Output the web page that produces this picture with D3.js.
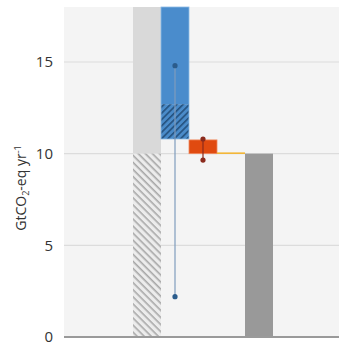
<!DOCTYPE html>
<html><head><meta charset="utf-8">
<script src="https://cdn.jsdelivr.net/npm/d3@7"></script>
<style>body{margin:0;background:#fff}svg{display:block}</style>
</head><body>
<script>
// Data
const categories = ["gross", "removals", "emissions", "link", "net"];
const yTicks = [0, 5, 10, 15];
// light-grey bar: solid segment and hatched segment [from, to]
const grossSolid = [10, 18];
const grossHatched = [0, 10];
// blue bar segments
const removalSolid = [12.7, 18];
const removalHatched = [10.8, 12.7];
const removalRange = [2.2, 14.8];
// orange bar
const emissionBar = [10, 10.75];
const emissionRange = [9.65, 10.8];
// connector line value
const linkValue = [10];
// net bar
const netBar = [0, 10];

const W = 339, H = 344;
const svg = d3.select("body").append("svg").attr("width", W).attr("height", H);
const defs = svg.append("defs");

const plotL = 64, plotR = 339, plotT = 7, plotB = 337;
const y = d3.scaleLinear().domain([0, 18]).range([plotB, plotT]);
const x = d3.scaleBand().domain(categories).range([133, 273]).padding(0);
const bw = x.bandwidth();

// patterns
const pg = defs.append("pattern").attr("id", "hatchGrey").attr("patternUnits", "userSpaceOnUse")
  .attr("width", 5).attr("height", 5).attr("patternTransform", "rotate(45)");
pg.append("rect").attr("width", 5).attr("height", 5).attr("fill", "#ececec");
pg.append("rect").attr("width", 5).attr("height", 1.6).attr("fill", "#a8a8a8");

const pb = defs.append("pattern").attr("id", "hatchBlue").attr("patternUnits", "userSpaceOnUse")
  .attr("width", 4.5).attr("height", 4.5).attr("patternTransform", "rotate(-45)");
pb.append("rect").attr("width", 4.5).attr("height", 4.5).attr("fill", "#4a8bc9");
pb.append("rect").attr("width", 4.5).attr("height", 1.6).attr("fill", "#25517e");

// background
svg.append("rect").attr("x", plotL).attr("y", plotT).attr("width", plotR - plotL).attr("height", plotB - plotT)
  .attr("fill", "#f4f4f4");

// gridlines
svg.append("g").selectAll("line").data(yTicks.filter(d => d > 0)).join("line")
  .attr("x1", plotL).attr("x2", plotR).attr("y1", d => y(d)).attr("y2", d => y(d))
  .attr("stroke", "#dcdcdc").attr("stroke-width", 1.2);

function seg(key, r, fill, stroke) {
  return svg.append("rect").attr("x", x(key)).attr("width", bw)
    .attr("y", y(r[1])).attr("height", y(r[0]) - y(r[1]))
    .attr("fill", fill).attr("stroke", stroke || "none");
}
seg("gross", grossSolid, "#d9d9d9");
seg("gross", grossHatched, "url(#hatchGrey)");
seg("removals", removalSolid, "#4a8ccc");
seg("removals", removalHatched, "url(#hatchBlue)");
seg("removals", [removalHatched[0], removalSolid[1]], "none", "#8dbbe6").attr("stroke-width", 0.8);
seg("emissions", emissionBar, "#e04a10", "#f08a60").attr("stroke-width", 0.8);
seg("net", netBar, "#999999");

// link line
svg.append("g").selectAll("line").data(linkValue).join("line")
  .attr("x1", x("link")).attr("x2", x("link") + bw)
  .attr("y1", d => y(d) - 0.5).attr("y2", d => y(d) - 0.5)
  .attr("stroke", "#f5b32a").attr("stroke-width", 1.5);

// error bars
function range(key, r, lineColor, dotColor) {
  const cx = x(key) + bw / 2;
  svg.append("line").attr("x1", cx).attr("x2", cx).attr("y1", y(r[0])).attr("y2", y(r[1]))
    .attr("stroke", lineColor).attr("stroke-width", 1.2);
  svg.append("g").selectAll("circle").data(r).join("circle")
    .attr("cx", cx).attr("cy", d => y(d)).attr("r", 2.6).attr("fill", dotColor);
}
range("removals", removalRange, "#7f9cbc", "#2b5c8c");
range("emissions", emissionRange, "#8b2a1c", "#8b2a1c");

// axis baseline
svg.append("line").attr("x1", plotL).attr("x2", plotR).attr("y1", plotB).attr("y2", plotB)
  .attr("stroke", "#9a9a9a").attr("stroke-width", 2);

// y tick labels
svg.append("g").selectAll("text").data(yTicks).join("text")
  .attr("x", 53).attr("y", d => y(d)).attr("dy", "0.36em")
  .attr("text-anchor", "end").attr("font-family", "Open Sans, sans-serif")
  .attr("font-size", 15).attr("fill", "#333").text(d => d);

// y axis label
const lab = svg.append("text").attr("transform", "translate(26,188) rotate(-90)")
  .attr("text-anchor", "middle").attr("font-family", "Open Sans, sans-serif")
  .attr("font-size", 14).attr("fill", "#333");
lab.append("tspan").text("GtCO");
lab.append("tspan").attr("font-size", 9).attr("dy", 3).text("2");
lab.append("tspan").attr("dy", -3).text("-eq yr");
lab.append("tspan").attr("font-size", 9).attr("dy", -5).text("-1");
</script>
</body></html>
